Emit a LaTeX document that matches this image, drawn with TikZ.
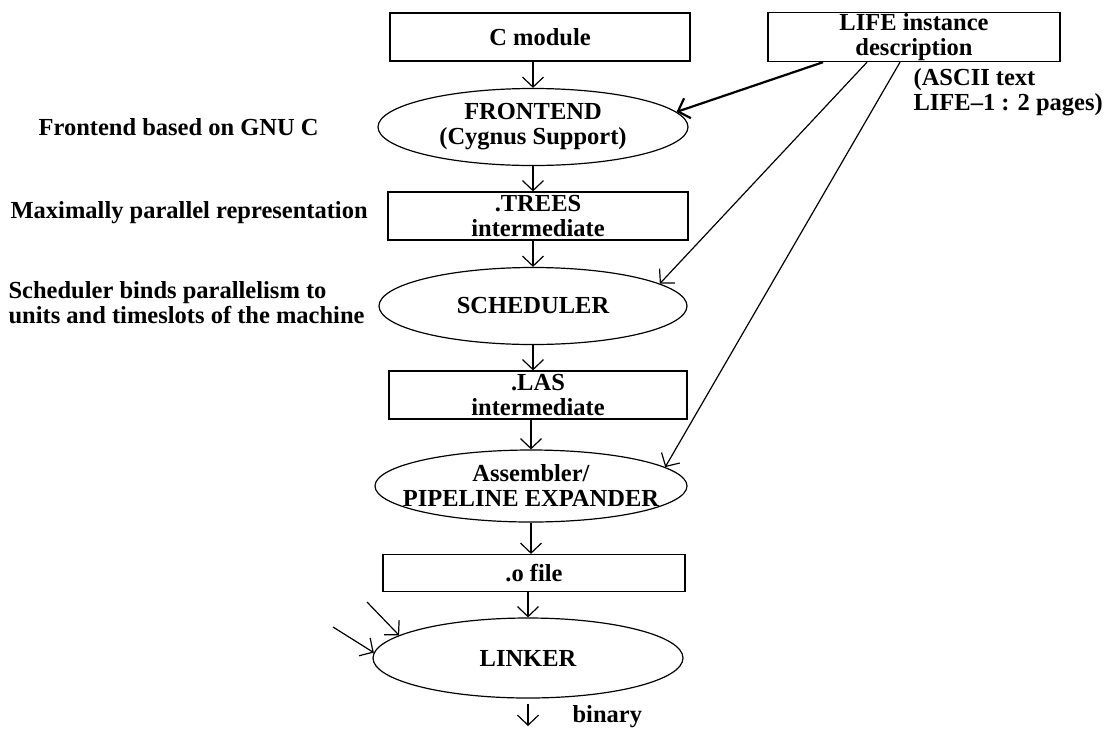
\documentclass[tikz,border=0pt]{standalone}
\usepackage{fontspec}
\setmainfont{Liberation Serif}
\usetikzlibrary{positioning}
\usetikzlibrary{shapes.geometric}
\usetikzlibrary{arrows.meta}

\begin{document}
\begin{tikzpicture}[x = 1pt, y = -1pt, line width = 1.2pt,
	>= {Straight Barb[length = 10pt, width = 21pt]},
	every node/.style = {font = \fontsize{24.5}{25}\selectfont\bfseries},
	file/.style = {draw, rectangle, minimum width = 300, minimum height = 48, inner sep = 1pt, align = center},
	pass/.style = {draw, ellipse, minimum width = 310, minimum height = 77, inner sep = 0pt, align = center},
	note/.style = {anchor = west, align = left, inner sep = 0pt}]
	\useasboundingbox (0, 0) rectangle (1105, 729);
	% chain of files and passes
	\node[file] (cmod) at (540, 37) {C module};
	\node[file, minimum width = 292] (life) at (914, 37) {LIFE instance\\description};
	\node[pass] (front) at (533, 127) {FRONTEND\\(Cygnus Support)};
	\node[file] (trees) at (538, 216) {.TREES\\intermediate};
	\node[pass, minimum width = 308] (sched) at (533, 306) {SCHEDULER};
	\node[file, minimum width = 298] (las) at (538, 395) {.LAS\\intermediate};
	\node[pass, minimum width = 312, minimum height = 72, inner xsep = -22pt] (asm) at (531, 486) {Assembler/\\PIPELINE EXPANDER};
	\node[file, minimum width = 302, minimum height = 37] (ofile) at (534, 573) {.o file};
	\node[pass, minimum height = 80] (linker) at (528, 658) {LINKER};
	% comments on the left and right
	\node[note] (gnu) at (38, 127) {Frontend based on GNU C};
	\node[note] (maxpar) at (10, 213) {Maximally parallel representation};
	\node[note] (bind) at (8, 303) {Scheduler binds parallelism to\\units and timeslots of the machine};
	\node[note] (ascii) at (913, 92) {(ASCII text\\LIFE--1 : 2 pages)};
	\node[note] (bin) at (572, 717) {binary};
	\coordinate (in1) at (367, 602);
	\coordinate (in2) at (333, 627);
	\coordinate (out) at (528, 726);
	% flow
	\draw[->] (front.north |- cmod.south) -- (front.north);
	\draw[->] (front.south) -- (front.south |- trees.north);
	\draw[->] (sched.north |- trees.south) -- (sched.north);
	\draw[->] (sched.south) -- (sched.south |- las.north);
	\draw[->] (asm.north |- las.south) -- (asm.north);
	\draw[->] (asm.south) -- (asm.south |- ofile.north);
	\draw[->] (linker.north |- ofile.south) -- (linker.north);
	\draw[->] ([yshift = -5pt]linker.south) -- (linker.south |- out);
	\draw[->] (in1) -- (linker.170);
	\draw[->] (in2) -- (linker.178);
	% machine description
	\draw[->, line width = 2.2pt] ([xshift = -91pt]life.south) -- (front.6);
	\draw[->] ([xshift = -47pt]life.south) -- (sched.10);
	\draw[->] ([xshift = -14pt]life.south) -- (asm.8);
\end{tikzpicture}
\end{document}
